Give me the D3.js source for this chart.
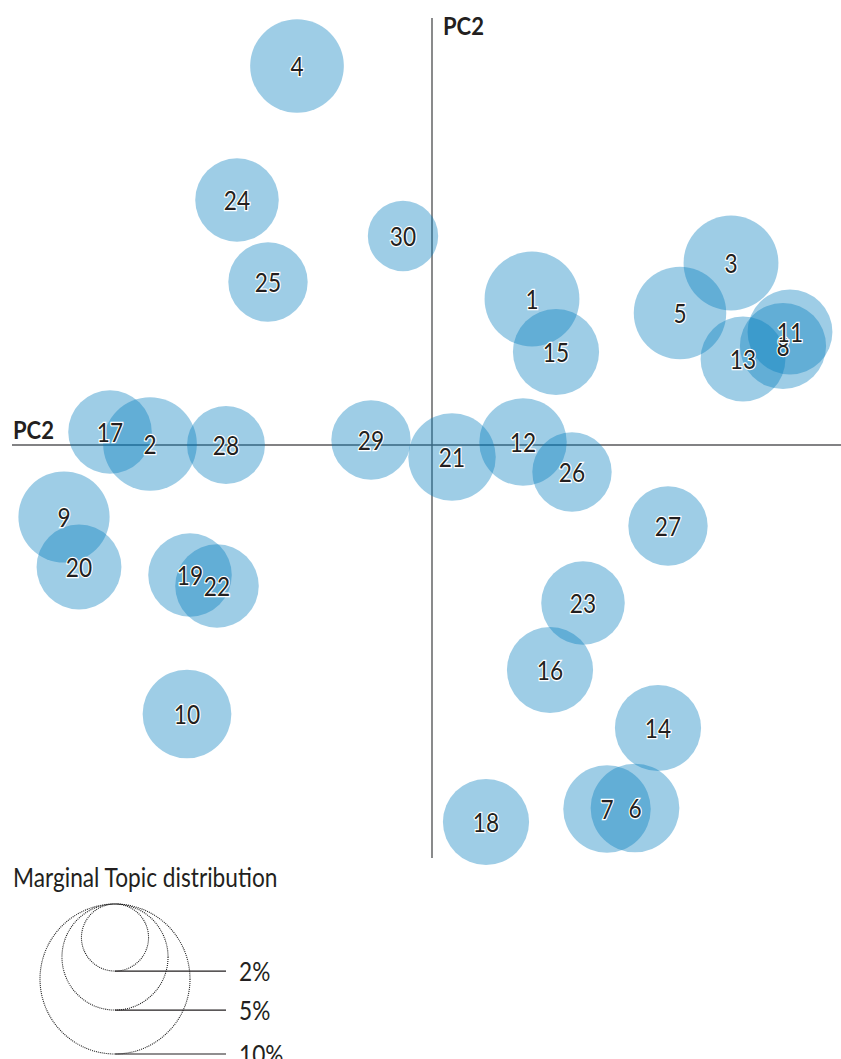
<!DOCTYPE html>
<html>
<head>
<meta charset="utf-8">
<script src="https://cdn.jsdelivr.net/npm/d3@7"></script>
<style>
  body { margin: 0; background: #fff; }
  text { font-family: "Liberation Sans Narrow", "Lato", sans-serif; }
</style>
</head>
<body>
<svg id="chart"></svg>
<script>
// topic ids, PC coordinates and marginal topic distribution (%)
var topics = [1, 2, 3, 4, 5, 6, 7, 8, 9, 10, 11, 12, 13, 14, 15,
              16, 17, 18, 19, 20, 21, 22, 23, 24, 25, 26, 27, 28, 29, 30];
var pc1 = [1.00, -2.82, 2.99, -1.35, 2.48, 2.03, 1.75, 3.51, -3.68, -2.45, 3.58, 0.91, 3.11, 2.26, 1.24,
           1.18, -3.22, 0.54, -2.42, -3.53, 0.20, -2.15, 1.51, -1.95, -1.64, 1.40, 2.36, -2.06, -0.61, -0.29];
var pc2 = [1.46, 0.01, 1.82, 3.79, 1.32, -3.63, -3.64, 0.99, -0.72, -2.69, 1.13, 0.03, 0.86, -2.83, 0.93,
           -2.25, 0.13, -3.77, -1.30, -1.22, -0.12, -1.41, -1.58, 2.45, 1.63, -0.27, -0.81, 0.00, 0.05, 2.09];
var marginal = [4.0, 3.9, 4.0, 3.9, 3.8, 3.5, 3.4, 3.3, 3.7, 3.5, 3.2, 3.4, 3.2, 3.3, 3.3,
                3.3, 3.1, 3.3, 3.1, 3.2, 3.4, 3.1, 3.1, 3.1, 2.8, 2.8, 2.8, 2.7, 2.8, 2.2];
var legendValues = [10, 5, 2];
var legendLabels = ["10%", "5%", "2%"];

var width = 841, height = 1059;
var squeeze = 0.84; // condensed look of the original typeface

var svg = d3.select("#chart")
    .attr("width", width)
    .attr("height", height);

var x = d3.scaleLinear().domain([-4.2, 4.09]).range([12, 841]);
var y = d3.scaleLinear().domain([-4.13, 4.27]).range([858, 18]);
var r = d3.scaleSqrt().domain([0, 10]).range([0, 75]);

var data = topics.map(function (t, i) {
    return {topic: t, pc1: pc1[i], pc2: pc2[i], p: marginal[i]};
});

function place(px, py, sx) {
    return "translate(" + px + "," + py + ") scale(" + sx + ",1)";
}

// axes
var axes = svg.append("g").attr("class", "axes");
axes.append("line")
    .attr("x1", x.range()[0]).attr("x2", x.range()[1])
    .attr("y1", y(0)).attr("y2", y(0))
    .style("stroke", "#58595b").style("stroke-width", 1.4);
axes.append("line")
    .attr("x1", x(0)).attr("x2", x(0))
    .attr("y1", y.range()[1]).attr("y2", y.range()[0])
    .style("stroke", "#58595b").style("stroke-width", 1.4);

axes.append("text")
    .attr("transform", place(x(0) + 11, 35, 0.88))
    .style("font-size", "25px").style("font-weight", "bold").style("fill", "#231f20")
    .text("PC2");
axes.append("text")
    .attr("transform", place(13, 439, 0.88))
    .style("font-size", "25px").style("font-weight", "bold").style("fill", "#231f20")
    .text("PC2");

// topic circles
svg.append("g").attr("class", "circles")
    .selectAll("circle")
    .data(data)
    .enter().append("circle")
    .attr("cx", function (d) { return x(d.pc1); })
    .attr("cy", function (d) { return y(d.pc2); })
    .attr("r", function (d) { return r(d.p); })
    .style("fill", "rgb(0,124,190)")
    .style("fill-opacity", 0.38);

svg.append("g").attr("class", "labels")
    .selectAll("text")
    .data(data)
    .enter().append("text")
    .attr("transform", function (d) { return place(x(d.pc1), y(d.pc2), squeeze); })
    .attr("dy", "0.36em")
    .style("text-anchor", "middle")
    .style("font-size", "27px")
    .style("fill", "#231f20")
    .style("stroke", "#fff")
    .style("stroke-width", 2.5)
    .style("paint-order", "stroke")
    .text(function (d) { return d.topic; });

// legend
var legend = svg.append("g").attr("class", "legend");
var lx = 115, ltop = 904;

legend.append("text")
    .attr("transform", place(13, 887, squeeze))
    .style("font-size", "27px").style("fill", "#231f20")
    .text("Marginal Topic distribution");

legend.selectAll("circle")
    .data(legendValues)
    .enter().append("circle")
    .attr("cx", lx)
    .attr("cy", function (d) { return ltop + r(d); })
    .attr("r", function (d) { return r(d); })
    .style("fill", "none")
    .style("stroke", "#1a1a1a")
    .style("stroke-width", 1.1)
    .style("stroke-dasharray", "1,1");

legend.selectAll("line")
    .data(legendValues)
    .enter().append("line")
    .attr("x1", lx).attr("x2", 226)
    .attr("y1", function (d) { return ltop + 2 * r(d); })
    .attr("y2", function (d) { return ltop + 2 * r(d); })
    .style("stroke", "#231f20").style("stroke-width", 1.2);

legend.selectAll("text.val")
    .data(legendValues)
    .enter().append("text")
    .attr("class", "val")
    .attr("transform", function (d) { return place(239, ltop + 2 * r(d), squeeze); })
    .attr("dy", "0.36em")
    .style("font-size", "27px").style("fill", "#231f20")
    .text(function (d, i) { return legendLabels[i]; });
</script>
</body>
</html>
